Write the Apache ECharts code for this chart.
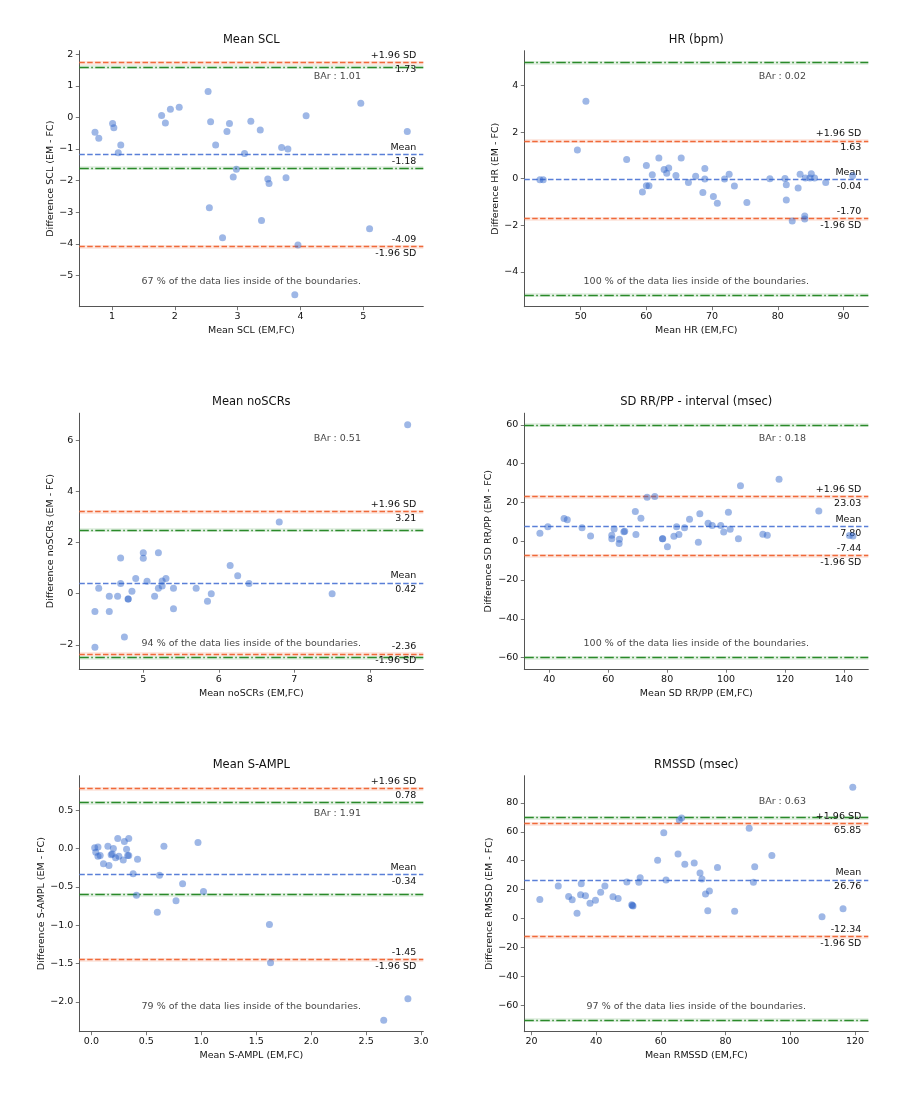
<!DOCTYPE html>
<html>
<head>
<meta charset="utf-8">
<script src="https://cdn.jsdelivr.net/npm/echarts@6/dist/echarts.min.js"></script>
<style>html,body{margin:0;padding:0;background:#fff}#c{width:901px;height:1109px}</style>
</head>
<body>
<div id="c"></div>
<script>
// ---------- chart texts ----------
const titles = ['Mean SCL', 'HR (bpm)', 'Mean noSCRs', 'SD RR/PP - interval (msec)', 'Mean S-AMPL', 'RMSSD (msec)'];
const xNames = ['Mean SCL (EM,FC)', 'Mean HR (EM,FC)', 'Mean noSCRs (EM,FC)', 'Mean SD RR/PP (EM,FC)', 'Mean S-AMPL (EM,FC)', 'Mean RMSSD (EM,FC)'];
const yNames = ['Difference SCL (EM - FC)', 'Difference HR (EM - FC)', 'Difference noSCRs (EM - FC)', 'Difference SD RR/PP (EM - FC)', 'Difference S-AMPL (EM - FC)', 'Difference RMSSD (EM - FC)'];

// ---------- data: [mean, difference] ----------
const sclPoints = [[0.73,-0.47],[0.79,-0.66],[1.01,-0.19],[1.03,-0.33],[1.10,-1.12],[1.14,-0.87],[1.79,0.06],[1.85,-0.18],[1.93,0.26],[2.07,0.32],[2.53,0.82],[2.57,-0.14],[2.55,-2.86],[2.65,-0.87],[2.76,-3.81],[2.83,-0.45],[2.87,-0.19],[2.93,-1.89],[2.98,-1.64],[3.11,-1.14],[3.21,-0.12],[3.36,-0.40],[3.38,-3.26],[3.48,-1.95],[3.50,-2.09],[3.70,-0.95],[3.80,-1.00],[3.77,-1.91],[3.91,-5.61],[3.96,-4.04],[4.09,0.05],[4.96,0.45],[5.10,-3.52],[5.70,-0.45]];
const hrPoints = [[43.8,-0.04],[44.3,-0.04],[49.5,1.23],[50.8,3.33],[57.0,0.83],[59.4,-0.57],[60.0,0.57],[60.0,-0.30],[60.4,-0.30],[60.9,0.17],[61.9,0.89],[62.7,0.40],[63.1,0.23],[63.4,0.46],[64.5,0.14],[65.3,0.89],[66.4,-0.16],[67.5,0.11],[68.6,-0.59],[68.9,0.44],[68.9,-0.01],[70.2,-0.76],[70.8,-1.06],[71.9,-0.01],[72.6,0.19],[73.4,-0.31],[75.3,-1.02],[78.8,0.00],[81.1,0.01],[81.3,-0.26],[81.3,-0.92],[82.2,-1.82],[83.1,-0.40],[83.4,0.19],[84.2,0.03],[84.1,-1.60],[84.1,-1.73],[85.1,0.21],[84.9,0.03],[85.6,0.03],[87.3,-0.16],[91.4,0.13]];
const noscrPoints = [[4.36,-0.70],[4.36,-2.10],[4.41,0.21],[4.55,-0.10],[4.55,-0.70],[4.66,-0.10],[4.70,1.40],[4.70,0.40],[4.75,-1.70],[4.80,-0.21],[4.80,-0.21],[4.85,0.10],[4.90,0.59],[5.00,1.60],[5.00,1.39],[5.05,0.49],[5.15,-0.10],[5.20,1.60],[5.20,0.21],[5.25,0.50],[5.25,0.30],[5.30,0.59],[5.40,0.21],[5.40,-0.59],[5.70,0.21],[5.85,-0.30],[5.90,0.00],[6.15,1.10],[6.25,0.70],[6.40,0.40],[6.80,2.81],[7.50,0.00],[8.50,6.61]];
const sdrrPoints = [[36.8,4.1],[39.5,7.5],[45.0,11.7],[46.1,11.1],[51.1,6.9],[54.0,2.7],[61.2,1.2],[61.2,3.1],[62.0,6.3],[63.8,1.0],[63.7,-1.2],[65.3,4.9],[65.6,5.1],[69.2,15.3],[69.4,3.4],[71.1,11.8],[73.2,22.6],[75.8,23.1],[78.4,1.2],[78.5,1.3],[80.1,-2.9],[82.3,2.6],[83.2,7.4],[84.0,3.4],[85.9,6.9],[87.6,11.3],[90.6,-0.5],[91.1,14.1],[93.9,9.3],[95.3,8.1],[98.2,8.1],[99.2,4.8],[100.8,14.9],[101.4,6.2],[104.2,1.2],[104.9,28.6],[112.5,3.6],[114.0,3.1],[118.0,31.9],[131.5,15.6],[141.9,2.9],[143.1,2.7]];
const samplPoints = [[0.03,0.01],[0.06,0.02],[0.04,-0.05],[0.06,-0.10],[0.08,-0.09],[0.15,0.03],[0.20,0.00],[0.19,-0.07],[0.18,-0.08],[0.22,-0.12],[0.25,-0.10],[0.24,0.13],[0.30,0.09],[0.34,0.13],[0.32,-0.01],[0.33,-0.09],[0.34,-0.09],[0.29,-0.15],[0.42,-0.14],[0.11,-0.20],[0.16,-0.22],[0.38,-0.33],[0.41,-0.61],[0.66,0.03],[0.62,-0.35],[0.60,-0.83],[0.77,-0.68],[0.83,-0.46],[0.97,0.08],[1.02,-0.56],[1.62,-0.99],[1.63,-1.49],[2.66,-2.24],[2.88,-1.96]];
const rmssdPoints = [[22.6,13.3],[28.3,22.6],[31.5,15.4],[32.6,13.1],[34.1,3.7],[35.2,16.6],[35.4,24.2],[36.7,15.9],[38.1,10.6],[39.8,12.7],[41.4,18.2],[42.7,22.6],[45.2,15.2],[46.8,14.0],[49.5,25.3],[51.0,9.7],[51.4,8.7],[51.2,9.1],[53.2,25.1],[53.6,28.3],[59.0,40.3],[60.9,59.4],[61.6,26.7],[65.3,44.6],[65.7,68.1],[66.4,69.5],[67.4,37.5],[70.3,38.4],[72.1,31.5],[72.7,27.4],[73.8,17.0],[74.5,5.5],[75.0,19.1],[77.5,35.4],[82.8,5.1],[87.3,62.4],[88.6,25.1],[89.0,35.9],[94.3,43.7],[109.8,1.4],[116.3,6.9],[119.3,90.7]];
const allPoints = [sclPoints, hrPoints, noscrPoints, sdrrPoints, samplPoints, rmssdPoints];

// ---------- limits of agreement ----------
const meanVals  = [-1.18, -0.04, 0.42, 7.80, -0.34, 26.76];
const upperVals = [1.73, 1.63, 3.21, 23.03, 0.78, 65.85];
const lowerVals = [-4.09, -1.70, -2.36, -7.44, -1.45, -12.34];
const greenVals = [1.6, 5, 2.5, 60, 0.6, 70];
const barVals   = ['1.01', '0.02', '0.51', '0.18', '1.91', '0.63'];
const insidePct = [67, 100, 94, 100, 79, 97];

// ---------- axes ----------
const xTicks = [[1,2,3,4,5],[50,60,70,80,90],[5,6,7,8],[40,60,80,100,120,140],[0,0.5,1,1.5,2,2.5,3],[20,40,60,80,100,120]];
const yTicks = [[-5,-4,-3,-2,-1,0,1,2],[-4,-2,0,2,4],[-2,0,2,4,6],[-60,-40,-20,0,20,40,60],[-2,-1.5,-1,-0.5,0,0.5],[-60,-40,-20,0,20,40,60,80]];
const xDec = [0,0,0,0,1,0];
const yDec = [0,0,0,0,1,0];
const xRanges = [[0.48,5.955],[41.42,93.78],[4.153,8.707],[31.5,148.3],[-0.11,3.02],[17.8,124.1]];
const yRanges = [[-5.99,2.11],[-5.5,5.5],[-2.956,7.066],[-66,66],[-2.39,0.95],[-78,98.7]];

// ---------- layout ----------
const LEFTS = [79.3, 524.3];
const TOPS = [50.7, 413.2, 775.7];
const PW = 344, PH = 256;
const yNameGaps = [24, 24, 24, 31, 33, 30];
const barFracY = [0.9, 0.9, 0.9, 0.9, 0.853, 0.9];
const FONT = 'DejaVu Sans';
const TXT = '#111';
const AX = '#555';
const PT = 'rgba(45,100,200,0.58)';
const BLUE = '#5a7fd8';
const ORANGE = '#f06a3a';
const GREEN = '#2a8a2a';
const CLEAR = 'rgba(0,0,0,0)';

function fmt(v, d) { return v.toFixed(d).replace('-', '\u2212'); }

const chart = echarts.init(document.getElementById('c'), null, {renderer: 'canvas'});
const grids = [], xAxes = [], yAxes = [], series = [], titleArr = [];

function lineItem(v, color, type, width) {
  return {yAxis: v, lineStyle: {color: color, type: type, width: width}, label: {show: false}};
}
function labelItem(v, text, pos) {
  return {yAxis: v, lineStyle: {color: CLEAR, width: 1, type: 'solid'},
    label: {show: true, position: pos, formatter: text, distance: [7, 2], color: TXT, fontFamily: FONT, fontSize: 9.5}};
}

for (let i = 0; i < 6; i++) {
  const col = i % 2, row = Math.floor(i / 2);
  grids.push({left: LEFTS[col], top: TOPS[row], width: PW, height: PH, containLabel: false});
  titleArr.push({text: titles[i], left: LEFTS[col] + PW / 2, top: TOPS[row] - 17, textAlign: 'center', padding: 0,
    textStyle: {fontFamily: FONT, fontSize: 11.5, fontWeight: 'normal', color: TXT}});
  xAxes.push({
    type: 'value', gridIndex: i, min: xRanges[i][0], max: xRanges[i][1],
    name: xNames[i], nameLocation: 'middle', nameGap: 19,
    nameTextStyle: {fontFamily: FONT, fontSize: 9.5, color: TXT},
    axisLine: {onZero: false, lineStyle: {color: AX, width: 1}},
    axisTick: {show: true, length: 3.5, customValues: xTicks[i], lineStyle: {color: AX, width: 0.8}},
    axisLabel: {customValues: xTicks[i], formatter: (v) => fmt(v, xDec[i]), margin: 5, fontFamily: FONT, fontSize: 9.5, color: TXT},
    splitLine: {show: false}
  });
  yAxes.push({
    type: 'value', gridIndex: i, min: yRanges[i][0], max: yRanges[i][1],
    name: yNames[i], nameLocation: 'middle', nameGap: yNameGaps[i],
    nameTextStyle: {fontFamily: FONT, fontSize: 9.5, color: TXT},
    axisLine: {onZero: false, lineStyle: {color: AX, width: 1}},
    axisTick: {show: true, length: 3.5, customValues: yTicks[i], lineStyle: {color: AX, width: 0.8}},
    axisLabel: {customValues: yTicks[i], formatter: (v) => fmt(v, yDec[i]), margin: 6, fontFamily: FONT, fontSize: 9.5, color: TXT},
    splitLine: {show: false}
  });

  const g = greenVals[i];
  const mlData = [
    lineItem(g, 'rgba(42,138,42,0.12)', 'solid', 4),
    lineItem(-g, 'rgba(42,138,42,0.12)', 'solid', 4),
    lineItem(upperVals[i], 'rgba(240,106,58,0.15)', 'solid', 4),
    lineItem(lowerVals[i], 'rgba(240,106,58,0.15)', 'solid', 4),
    lineItem(g, GREEN, [9.5, 2.5, 1.5, 2.5], 1.4),
    lineItem(-g, GREEN, [9.5, 2.5, 1.5, 2.5], 1.4),
    lineItem(upperVals[i], ORANGE, [5.5, 2.4], 1.4),
    lineItem(lowerVals[i], ORANGE, [5.5, 2.4], 1.4),
    lineItem(meanVals[i], BLUE, [5.5, 2.4], 1.3),
    labelItem(upperVals[i], '+1.96 SD', 'insideEndTop'),
    labelItem(upperVals[i], upperVals[i].toFixed(2), 'insideEndBottom'),
    labelItem(meanVals[i], 'Mean', 'insideEndTop'),
    labelItem(meanVals[i], meanVals[i].toFixed(2), 'insideEndBottom'),
    labelItem(lowerVals[i], lowerVals[i].toFixed(2), 'insideEndTop'),
    labelItem(lowerVals[i], '-1.96 SD', 'insideEndBottom')
  ];

  series.push({
    type: 'scatter', xAxisIndex: i, yAxisIndex: i, data: allPoints[i],
    symbolSize: 7, itemStyle: {color: PT}, silent: true, z: 3,
    markLine: {silent: true, symbol: ['none', 'none'], animation: false, data: mlData, z: 2}
  });

  const xr = xRanges[i][1] - xRanges[i][0], yr = yRanges[i][1] - yRanges[i][0];
  series.push({
    type: 'scatter', xAxisIndex: i, yAxisIndex: i, silent: true, z: 4,
    symbolSize: 1, itemStyle: {color: CLEAR},
    data: [
      {value: [xRanges[i][0] + 0.75 * xr, yRanges[i][0] + barFracY[i] * yr], label: {formatter: 'BAr : ' + barVals[i]}},
      {value: [xRanges[i][0] + 0.5 * xr, yRanges[i][0] + 0.1 * yr], label: {formatter: insidePct[i] + ' % of the data lies inside of the boundaries.'}}
    ],
    label: {show: true, position: 'inside', color: TXT, fontFamily: FONT, fontSize: 9.5}
  });
}

chart.setOption({
  animation: false,
  backgroundColor: '#fff',
  title: titleArr,
  grid: grids,
  xAxis: xAxes,
  yAxis: yAxes,
  series: series
});
</script>
</body>
</html>
